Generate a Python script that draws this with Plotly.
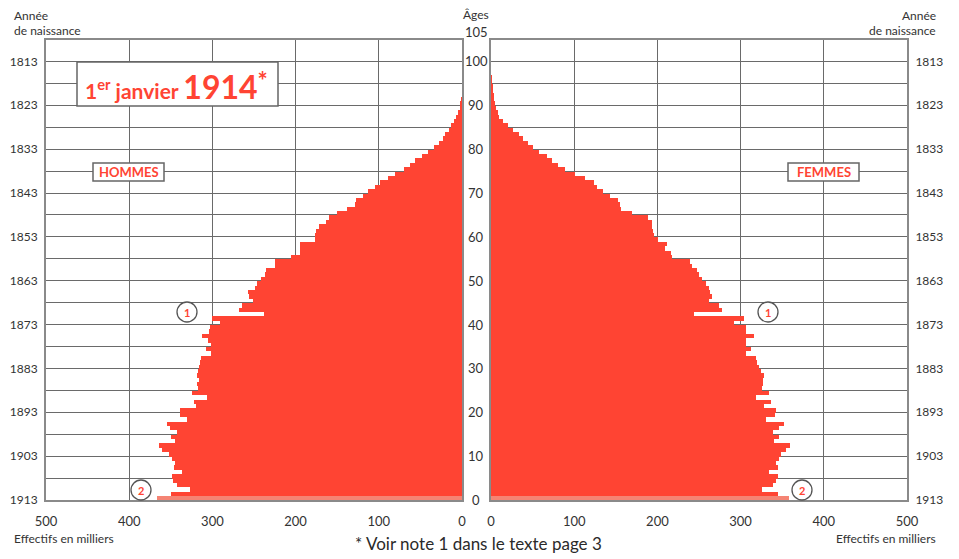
import plotly.graph_objects as go

# ---------------- data ----------------
ages = list(range(0, 97))

men = [367, 350, 327, 343, 347, 349, 337, 346, 345, 349,
       352, 361, 364, 345, 350, 343, 351, 354, 331, 339,
       339, 320, 322, 306, 324, 317, 318, 316, 318, 317,
       316, 315, 314, 302, 308, 302, 305, 313, 304, 303,
       291, 300, 238, 268, 264, 251, 256, 257, 249, 247,
       241, 237, 235, 225, 225, 205, 195, 195, 195, 177,
       177, 176, 172, 164, 160, 150, 138, 129, 128, 119,
       113, 105, 99, 89, 81, 70, 62, 56, 48, 41,
       34, 28, 23, 20, 16, 13, 10, 7, 5, 3,
       2, 1, 0, 0, 0, 0, 0]

women = [358, 345, 326, 339, 342, 345, 334, 345, 342, 346,
         349, 355, 359, 340, 346, 339, 346, 352, 331, 341,
         343, 328, 336, 318, 334, 326, 327, 327, 328, 325,
         322, 320, 319, 307, 313, 306, 307, 316, 307, 307,
         292, 304, 244, 278, 274, 262, 266, 263, 262, 258,
         253, 250, 248, 241, 239, 217, 216, 209, 212, 201,
         196, 195, 194, 193, 189, 169, 156, 155, 153, 143,
         135, 127, 124, 113, 101, 89, 80, 73, 67, 58,
         50, 44, 38, 34, 27, 21, 14, 10, 8, 6,
         4.5, 4, 3, 2, 1.5, 1, 0.5]

year_tick_ages = [0, 10, 20, 30, 40, 50, 60, 70, 80, 90, 100]
year_tick_labels = ["1913", "1903", "1893", "1883", "1873", "1863",
                    "1853", "1843", "1833", "1823", "1813"]
age_labels = [0, 10, 20, 30, 40, 50, 60, 70, 80, 90, 100, 105]
x_ticks = [0, 100, 200, 300, 400, 500]

# ---------------- styles ----------------
W, H = 959, 559
RED = "#FF4433"
LIGHT = "#F58474"
TXT = "#333333"
GRID = "#6a6a6a"
FRAME = "#8a8a8a"
FONT = "Lato, 'Open Sans', sans-serif"


def px(xp):
    return xp / W


def py(yp):
    return 1 - yp / H


bar_colors_m = [LIGHT] + [RED] * (len(ages) - 1)
bar_colors_f = [LIGHT] + [RED] * (len(ages) - 1)

fig = go.Figure()
fig.add_trace(go.Bar(x=men, y=ages, orientation="h", width=1, offset=0,
                     marker=dict(color=bar_colors_m, line=dict(width=0)),
                     xaxis="x", yaxis="y", showlegend=False))
fig.add_trace(go.Bar(x=women, y=ages, orientation="h", width=1, offset=0,
                     marker=dict(color=bar_colors_f, line=dict(width=0)),
                     xaxis="x2", yaxis="y2", showlegend=False))

left_dom = [px(46), px(462)]
right_dom = [px(491), px(907)]
y_dom = [py(500), py(39.5)]

xcommon = dict(showgrid=True, gridcolor=GRID, gridwidth=1, zeroline=False,
               showline=True, mirror=True, linecolor=FRAME, linewidth=2,
               tickvals=x_ticks, ticks="", ticklabelstandoff=8, automargin=False,
               tickfont=dict(family=FONT, size=13, color=TXT), fixedrange=True)
ycommon = dict(range=[0, 105], showgrid=False, zeroline=False,
               showline=True, mirror=True, linecolor=FRAME, linewidth=2,
               tickvals=year_tick_ages, ticktext=year_tick_labels, ticks="",
               ticklabelstandoff=4, automargin=False,
               tickfont=dict(family=FONT, size=12, color=TXT),
               minor=dict(dtick=5, tick0=0, showgrid=True, gridcolor=GRID, gridwidth=1),
               domain=y_dom, fixedrange=True)

fig.update_layout(
    width=W, height=H,
    margin=dict(l=0, r=0, t=0, b=0, autoexpand=False),
    paper_bgcolor="white", plot_bgcolor="white",
    bargap=0,
    xaxis=dict(domain=left_dom, range=[500, 0], anchor="y", **xcommon),
    xaxis2=dict(domain=right_dom, range=[0, 500], anchor="y2", **xcommon),
    yaxis=dict(anchor="x", side="left", **ycommon),
    yaxis2=dict(anchor="x2", side="right", **ycommon),
    font=dict(family=FONT, color=TXT),
)

ann = []
# central age labels
for a in age_labels:
    ann.append(dict(x=px(476), xref="paper", y=a, yref="y", text=str(a),
                    showarrow=False, xanchor="center", yanchor="middle",
                    yshift=7 if a == 105 else 0,
                    font=dict(family=FONT, size=13, color=TXT)))
ann.append(dict(x=px(476), xref="paper", y=py(14), yref="paper", text="Âges",
                showarrow=False, xanchor="center", yanchor="middle",
                font=dict(family=FONT, size=12, color=TXT)))
# header texts
for xx, anchor in [(12, "left"), (938, "right")]:
    ann.append(dict(x=px(xx), xref="paper", y=py(16), yref="paper", text="Année",
                    showarrow=False, xanchor=anchor, yanchor="middle",
                    font=dict(family=FONT, size=12, color=TXT)))
    ann.append(dict(x=px(xx), xref="paper", y=py(30), yref="paper", text="de naissance",
                    showarrow=False, xanchor=anchor, yanchor="middle",
                    font=dict(family=FONT, size=12, color=TXT)))
    ann.append(dict(x=px(xx), xref="paper", y=py(538), yref="paper",
                    text="Effectifs en milliers",
                    showarrow=False, xanchor=anchor, yanchor="middle",
                    font=dict(family=FONT, size=12, color=TXT)))
ann.append(dict(x=px(478), xref="paper", y=py(543), yref="paper",
                text="* Voir note 1 dans le texte page 3",
                showarrow=False, xanchor="center", yanchor="middle",
                font=dict(family=FONT, size=17, color="#2a2a2a")))
# title
ann.append(dict(x=px(176), xref="paper", y=py(86), yref="paper",
                text="<b>1<sup>er</sup> janvier <span style='font-size:32px'>1914</span>"
                     "<sup><span style='font-size:24px'>*</span></sup></b>",
                showarrow=False, xanchor="center", yanchor="middle",
                font=dict(family=FONT, size=21, color=RED)))
ann.append(dict(x=px(128.5), xref="paper", y=py(172), yref="paper", text="<b>HOMMES</b>",
                showarrow=False, xanchor="center", yanchor="middle",
                font=dict(family=FONT, size=13, color=RED)))
ann.append(dict(x=px(823.5), xref="paper", y=py(172), yref="paper", text="<b>FEMMES</b>",
                showarrow=False, xanchor="center", yanchor="middle",
                font=dict(family=FONT, size=13, color=RED)))
# circled notes
notes = [(187, 312, "1"), (768, 312, "1"), (141, 490, "2"), (802, 490, "2")]
shapes = []
for cx, cy, t in notes:
    ann.append(dict(x=px(cx), xref="paper", y=py(cy), yref="paper", text="<b>" + t + "</b>",
                    showarrow=False, xanchor="center", yanchor="middle",
                    font=dict(family=FONT, size=11, color=RED)))
    shapes.append(dict(type="circle", xref="paper", yref="paper",
                       x0=px(cx - 10), x1=px(cx + 10), y0=py(cy + 10), y1=py(cy - 10),
                       line=dict(color="#555555", width=1.3), fillcolor="white", layer="above"))

# boxes
for x0, x1, y0, y1 in [(77, 278, 62, 106), (93, 164, 163, 181), (788, 859, 163, 181)]:
    shapes.insert(0, dict(type="rect", xref="paper", yref="paper",
                          x0=px(x0), x1=px(x1), y0=py(y1), y1=py(y0),
                          line=dict(color="#666666", width=1.5), fillcolor="white",
                          layer="above"))

fig.update_layout(annotations=ann, shapes=shapes)
fig.write_html("out.html", config={"displayModeBar": False},
               post_script="document.body.style.margin='0px';document.body.style.overflow='hidden';")
